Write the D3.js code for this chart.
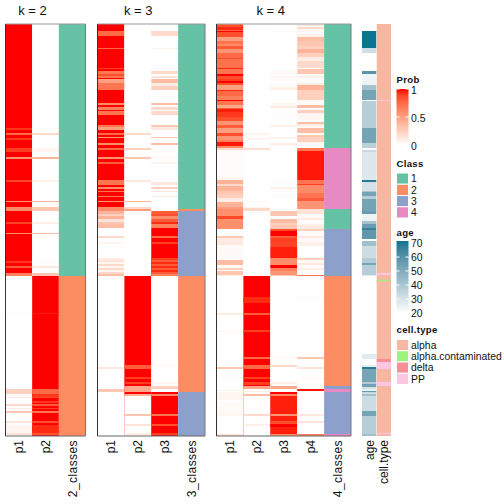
<!DOCTYPE html>
<html><head><meta charset="utf-8">
<script src="https://cdnjs.cloudflare.com/ajax/libs/d3/7.8.5/d3.min.js"></script>
<style>html,body{margin:0;padding:0;background:#fff}svg{display:block}text{font-family:"Liberation Sans",Arial,sans-serif;fill:#111}</style>
</head><body><div id="chart"></div>
<script>
// Every run is [firstRow, endRow, value]; later runs overwrite earlier ones.
const ROWS = 412;
const k2_p1 = [[0,252,1],[104,106,.92],[109,111,.75],[114,116,.92],[124,128,.9],[133,135,.55],[156,158,.88],[177,178,.55],[183,187,.6],[198,200,.88],[209,210,.6],[237,239,.92],[242,244,.8],[249,252,.65],[252,412,0],[289,290,.03],[365,370,.25],[370,373,.02],[373,374,.12],[380,382,.2],[384,385,.1],[387,389,.3],[397,399,.15],[401,409,.06],[409,411,.15]];
const k2_p2 = [[0,252,0],[104,106,.02],[109,111,.2],[124,128,.06],[133,135,.4],[156,158,.08],[177,178,.4],[183,187,.3],[198,200,.08],[209,210,.35],[237,239,.02],[242,244,.12],[249,252,.3],[252,412,1],[289,290,.97],[365,370,.75],[370,373,.92],[373,374,.85],[377,379,.92],[380,382,.8],[384,385,.9],[387,389,.7],[397,399,.85],[401,409,.95],[409,411,.85]];
const k3_p1 = [[0,187,1],[7,12,.75],[24,25,.75],[44,45,.9],[47,50,.7],[50,52,.85],[52,54,.7],[55,59,.5],[59,62,.7],[62,66,.7],[79,81,.6],[83,86,.65],[87,91,.7],[101,103,.7],[103,106,.5],[109,111,.75],[113,114,.55],[119,121,.6],[124,126,.75],[133,135,.55],[138,140,.8],[156,161,.7],[163,165,.6],[167,168,.7],[172,173,.7],[177,178,.55],[183,187,.6],[187,190,.4],[190,192,.25],[192,195,.4],[195,198,.15],[198,200,.3],[200,204,.35],[204,252,0],[212,214,.2],[218,220,.05],[234,236,.1],[236,238,.15],[238,240,.05],[240,242,.2],[242,244,.05],[244,246,.2],[246,248,.05],[248,250,.2],[250,252,.35],[252,412,0],[343,345,.12],[353,354,.02],[365,368,.3]];
const k3_p2 = [[0,252,0],[109,111,.2],[124,126,.25],[133,135,.3],[156,158,.12],[177,178,.4],[183,185,.2],[185,187,.5],[252,412,1],[341,345,.8],[353,355,.9],[358,360,.9],[362,368,.45],[370,372,.4],[372,412,0],[390,392,.3],[400,402,.15],[409,411,.1]];
const k3_p3 = [[0,187,0],[7,12,.2],[24,25,.08],[44,45,.02],[47,50,.2],[52,54,.15],[55,59,.35],[59,62,.1],[62,66,.25],[79,81,.35],[83,86,.2],[87,91,.2],[101,103,.3],[103,106,.12],[113,114,.3],[119,121,.35],[133,135,.03],[138,140,.06],[158,161,.12],[163,165,.25],[167,168,.15],[172,173,.1],[177,178,.02],[187,190,.8],[190,192,.85],[192,195,.6],[195,198,.8],[198,200,.95],[200,204,.65],[204,252,1],[212,214,.75],[218,220,.9],[234,236,.9],[236,238,.8],[238,240,.95],[240,242,.8],[242,244,.95],[244,246,.8],[246,248,.95],[248,250,.8],[250,252,.65],[252,368,0],[341,343,.03],[358,360,.05],[362,365,.25],[368,412,1],[370,372,.6],[390,392,.7],[400,402,.85],[409,411,.9]];
const k4_p1 = [[0,1,.75],[1,3,.85],[3,6,.95],[6,7,.75],[7,8,1],[8,13,.85],[13,17,.5],[17,20,.7],[20,22,.6],[22,25,.8],[25,29,.55],[29,34,.75],[34,35,.85],[35,44,.72],[44,45,.95],[45,50,.7],[50,52,1],[52,55,.85],[55,57,.9],[57,59,1],[59,61,.85],[61,66,.5],[66,67,.95],[67,72,.75],[72,76,.65],[76,77,1],[77,81,.7],[81,84,.45],[84,85,.8],[85,88,.97],[88,93,.92],[93,97,.85],[97,101,.55],[101,104,.8],[104,109,.5],[109,112,.85],[112,116,.55],[116,118,.65],[118,122,.98],[122,124,.6],[124,126,.2],[126,153,.02],[153,156,.05],[156,160,.4],[160,162,.2],[162,167,.4],[167,170,.3],[170,174,.25],[174,178,.1],[178,183,.4],[183,185,.52],[185,192,.58],[192,195,.87],[195,205,.58],[205,212,0],[212,214,.3],[214,217,.1],[217,221,.12],[221,236,.03],[236,241,.35],[241,244,.03],[244,246,.25],[246,247,.02],[247,251,.3],[251,252,.1],[252,412,0],[289,291,.1],[306,308,.03],[343,345,.3],[353,355,.02],[366,367,.08],[368,376,.05],[378,390,.03],[390,392,.05],[410,412,.15]];
const k4_p2 = [[0,252,0],[109,111,.06],[114,116,.05],[124,126,.18],[177,178,.05],[183,184,.07],[184,187,.21],[252,412,1],[273,279,.95],[289,291,.8],[306,308,.9],[333,335,.75],[341,345,.75],[353,355,.9],[358,361,.9],[362,365,.45],[365,412,0],[367,368,.1],[370,372,.35],[390,392,.2],[400,402,.08]];
const k4_p3 = [[0,187,0],[7,8,.02],[47,50,.04],[52,54,.05],[55,57,.04],[61,62,.06],[63,66,.08],[79,81,.05],[82,84,.1],[90,92,.02],[101,103,.08],[113,115,.07],[119,121,.1],[140,141,.01],[158,160,.02],[163,165,.08],[166,168,.03],[172,173,.04],[177,178,.02],[187,192,.3],[195,199,.35],[199,201,.25],[201,205,.3],[205,207,.85],[207,212,1],[212,214,.8],[214,218,.9],[218,223,.88],[223,234,.97],[234,241,.6],[241,244,1],[244,247,.65],[247,251,.55],[251,252,.3],[252,368,0],[333,335,.03],[341,343,.2],[358,360,.08],[362,365,.45],[368,412,.97],[368,370,1],[370,372,.6],[390,392,.55],[397,400,.85],[400,403,1],[410,412,.6]];
const k4_p4 = [[0,1,0],[1,2,.12],[2,3,.02],[3,5,.2],[5,8,.05],[8,10,.02],[10,13,.08],[13,17,.35],[17,22,.3],[22,25,.25],[25,29,.4],[29,33,.25],[33,37,.1],[37,44,.2],[44,45,.02],[45,50,.3],[50,52,.03],[52,54,.08],[54,59,.02],[59,61,.1],[61,66,.4],[66,76,.25],[76,80,.03],[80,81,.01],[81,84,.35],[84,86,.02],[86,89,.25],[89,96,.05],[96,98,.01],[98,100,.35],[100,102,.1],[102,104,.04],[104,109,.35],[109,111,.02],[111,113,.3],[113,118,.25],[118,120,.05],[120,122,.03],[122,124,.01],[124,127,.7],[127,156,.98],[156,160,.7],[160,161,.9],[161,169,.6],[169,174,.7],[174,177,.8],[177,181,.55],[181,185,.55],[185,190,.15],[190,194,.03],[194,196,.1],[196,200,.02],[200,202,.08],[202,205,.12],[205,207,.25],[207,212,.02],[212,214,.12],[214,218,.03],[218,222,.08],[234,236,.25],[236,239,.03],[239,241,.12],[241,244,.02],[244,246,.1],[246,251,.02],[251,252,.7],[252,412,0],[273,275,.02],[333,335,.3],[343,345,.15],[353,355,.03],[365,367,.98],[390,392,.12],[397,399,.15],[410,412,.65]];
const k2_classes = [[0,252,"1"],[252,412,"2"]];
const k3_classes = [[0,185,"1"],[185,187,"2"],[187,252,"3"],[252,368,"2"],[368,412,"3"]];
const k4_classes = [[0,124,"1"],[124,185,"4"],[185,205,"1"],[205,252,"3"],[252,362,"2"],[362,365,"3"],[365,368,"4"],[368,410,"3"],[410,412,"4"]];
const ageRuns = [[7,24,70],[24,29,31],[47,50,58],[50,61,24],[61,66,41],[66,76,52],[77,104,37],[104,119,52],[119,124,36],[126,128,33],[128,156,28],[156,158,67],[158,167,30],[167,168,40],[168,172,52],[172,175,37],[175,187,52],[187,190,55],[190,197,24],[197,200,41],[200,204,55],[204,206,65],[206,215,57],[217,222,42],[222,234,32],[234,239,38],[239,241,52],[241,251,37],[251,252,27],[330,335,27],[341,343,26],[343,345,67],[345,358,52],[358,360,38],[360,363,53],[363,365,30],[365,367,25],[367,368.5,55],[368.5,370,30],[370,372,42],[372,387,32],[387,392,52],[392,410,37],[410,412,42]];
const cellTypeRuns = [[0,412,"alpha"],[76,77,"PP"],[249,251,"PP"],[255.7,257,"alpha.contaminated"],[335,338,"delta"],[338,345,"PP"],[358,362,"PP"],[409,410,"PP"]];
const classNames = ["1","2","3","4"];
const classColors = ["#66C2A5","#FC8D62","#8DA0CB","#E78AC3"];
const cellTypes = ["alpha","alpha.contaminated","delta","PP"];
const cellColors = ["#F6B8A0","#9BF57A","#F78F97","#FCC6E3"];
const probTicks = [0,0.5,1];
const ageTicks = [20,30,40,50,60,70];
const panels = [
  {title:"k = 2",left:5.5,right:85.5,cols:["p1","p2","2_classes"],probs:[k2_p1,k2_p2],classes:k2_classes},
  {title:"k = 3",left:97.5,right:205,cols:["p1","p2","p3","3_classes"],probs:[k3_p1,k3_p2,k3_p3],classes:k3_classes},
  {title:"k = 4",left:216.5,right:351,cols:["p1","p2","p3","p4","4_classes"],probs:[k4_p1,k4_p2,k4_p3,k4_p4],classes:k4_classes}
];

const svg = d3.select("#chart").append("svg").attr("width",504).attr("height",504);
const y = d3.scaleLinear().domain([0,ROWS]).range([24,436]);
const prob = d3.scaleLinear().domain([0,1]).range(["#ffffff","#ff0000"]).interpolate(d3.interpolateLab);
const age = d3.scaleLinear().domain([20,70]).range(["#ffffff","#0b7490"]).interpolate(d3.interpolateLab);
const cls = d3.scaleOrdinal(classNames,classColors);
const cell = d3.scaleOrdinal(cellTypes,cellColors);

function strip(g,x0,w,runs,color){
  g.selectAll(null).data(runs).join("rect")
    .attr("x",x0).attr("width",w)
    .attr("y",d=>y(d[0])).attr("height",d=>y(d[1])-y(d[0]))
    .attr("fill",d=>color(d[2]));
}
panels.forEach(p=>{
  const g = svg.append("g");
  const x = d3.scaleBand().domain(p.cols).range([p.left,p.right]);
  p.probs.forEach((runs,i)=>strip(g,x(p.cols[i]),x.bandwidth(),runs,prob));
  strip(g,x(p.cols[p.cols.length-1]),x.bandwidth(),p.classes,cls);
  const edge=(x1,y1,x2,y2,c)=>g.append("line").attr("x1",x1).attr("y1",y1).attr("x2",x2).attr("y2",y2).attr("stroke",c).attr("stroke-width",1);
  edge(p.left,24,p.right,24,"#999");
  edge(p.left,436,p.right,436,"#666");
  edge(p.left,24,p.left,436,"#333");
  edge(p.right,24,p.right,436,"#777");
  g.append("text").attr("x",(p.left+p.right)/2-13).attr("y",15).attr("text-anchor","middle")
    .attr("font-size",13).text(p.title);
  g.selectAll(null).data(p.cols).join("text")
    .attr("transform",d=>`translate(${x(d)+x.bandwidth()/2+4.5},440) rotate(-90)`)
    .attr("text-anchor","end").attr("font-size",12)
    .attr("letter-spacing",d=>d.length>3?0.42:0).text(d=>d);
});

// annotation strips
const ann = d3.scaleBand().domain(["age","cell.type"]).range([362,391]).paddingInner(0.03);
strip(svg.append("g"),ann("age"),ann.bandwidth(),ageRuns,age);
strip(svg.append("g"),ann("cell.type"),ann.bandwidth(),cellTypeRuns,cell);
svg.selectAll(null).data(ann.domain()).join("text")
  .attr("transform",d=>`translate(${ann(d)+ann.bandwidth()/2+4.5},440) rotate(-90)`)
  .attr("text-anchor","end").attr("font-size",12).text(d=>d);

// legends
const LX=396.5, LW=12, TX=411;
function title(t,yy){svg.append("text").attr("x",LX).attr("y",yy).attr("font-size",9.6).attr("font-weight","bold").attr("letter-spacing",0.3).text(t);}
function label(t,yy){svg.append("text").attr("x",TX).attr("y",yy).attr("dy","0.36em").attr("font-size",10.4).text(t);}
function ramp(id,scale,lo,hi,pos,ticks,top,bottom){
  const d = svg.append("defs").append("linearGradient").attr("id",id).attr("x1",0).attr("x2",0).attr("y1",1).attr("y2",0);
  d3.range(11).forEach(i=>{const v=lo+(hi-lo)*i/10;d.append("stop").attr("offset",i*10+"%").attr("stop-color",scale(v));});
  svg.append("rect").attr("x",LX).attr("y",top).attr("width",LW).attr("height",bottom-top).attr("fill",`url(#${id})`);
  ticks.forEach(t=>{
    svg.append("line").attr("x1",LX).attr("x2",LX+3).attr("y1",pos(t)).attr("y2",pos(t)).attr("stroke","#fff");
    svg.append("line").attr("x1",LX+LW-3).attr("x2",LX+LW).attr("y1",pos(t)).attr("y2",pos(t)).attr("stroke","#fff");
  });
}
title("Prob",83);
const probY=d3.scaleLinear().domain([0,1]).range([145,89]);
ramp("gp",prob,0,1,probY,probTicks,89,145);
[[1,90.5],[0.5,118],[0,146.5]].forEach(([v,yy])=>label(String(v),yy));

title("Class",167);
const classY=d3.scaleBand().domain(classNames).range([173,218]);
svg.selectAll(null).data(classNames).join("rect").attr("x",LX).attr("width",LW)
  .attr("y",d=>classY(d)).attr("height",classY.bandwidth()).attr("fill",d=>cls(d)).attr("stroke","#fff").attr("stroke-width",1);
classNames.forEach(c=>label(c,classY(c)+classY.bandwidth()/2));

title("age",236);
const ageY=d3.scaleLinear().domain([20,70]).range([313,243]);
ramp("ga",age,20,70,ageY,[30,40,50,60],241,313);
ageTicks.forEach(t=>label(String(t),ageY(t)));

title("cell.type",332.5);
const cellY=d3.scaleBand().domain(cellTypes).range([339.5,384.5]);
svg.selectAll(null).data(cellTypes).join("rect").attr("x",LX).attr("width",LW)
  .attr("y",d=>cellY(d)).attr("height",cellY.bandwidth()).attr("fill",d=>cell(d)).attr("stroke","#fff").attr("stroke-width",1);
cellTypes.forEach(c=>label(c,cellY(c)+cellY.bandwidth()/2));
</script></body></html>
